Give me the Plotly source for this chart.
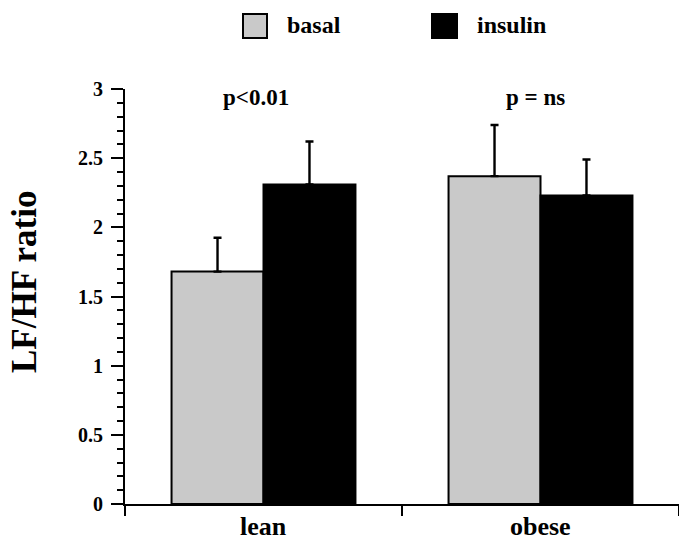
import plotly.graph_objects as go

categories = ["lean", "obese"]
basal = [1.68, 2.37]
basal_err = [0.245, 0.37]
insulin = [2.31, 2.23]
insulin_err = [0.31, 0.26]
p_labels = ["p<0.01", "p = ns"]
series_names = ["basal", "insulin"]
series_colors = ["#c9c9c9", "black"]
y_ticks = [0, 0.5, 1, 1.5, 2, 2.5, 3]
y_ticklabels = ["0", "0.5", "1", "1.5", "2", "2.5", "3"]

FONT = "Liberation Serif"
W, H = 679, 545
ML, MR, MT, MB = 125, 0, 89, 41
PW, PH = W - ML - MR, H - MT - MB

def px_x(p):
    return (p - ML) / PW

def px_y(p):
    return 1 - (p - MT) / PH

fig = go.Figure()
for name, vals, errs, col in zip(series_names, [basal, insulin], [basal_err, insulin_err], series_colors):
    fig.add_trace(go.Bar(
        x=categories, y=vals, name=name, showlegend=False,
        marker=dict(color=col, line=dict(color="black", width=2)),
        error_y=dict(type="data", array=errs, arrayminus=[0] * len(errs), symmetric=False,
                     color="black", thickness=2.4, width=4),
    ))

# p-value labels above each group
for cat, lab, dx in zip(categories, p_labels, [-8, -5]):
    fig.add_annotation(x=cat, y=2.935, xref="x", yref="y", text="<b>%s</b>" % lab,
                       showarrow=False, xshift=dx, yanchor="middle",
                       font=dict(family=FONT, size=23, color="black"))

# category labels
for cat in categories:
    fig.add_annotation(x=cat, y=px_y(H), xref="x", yref="paper", text="<b>%s</b>" % cat,
                       showarrow=False, yanchor="bottom", yshift=2,
                       font=dict(family=FONT, size=26, color="black"))

# legend (swatches + labels)
legend_boxes = [(243, 267), (432, 457)]
legend_text_x = [285, 475]
for (x0, x1), tx, name, col in zip(legend_boxes, legend_text_x, series_names, series_colors):
    fig.add_shape(type="rect", xref="paper", yref="paper",
                  x0=px_x(x0), x1=px_x(x1), y0=px_y(38), y1=px_y(14),
                  fillcolor=col, line=dict(color="black", width=2))
    fig.add_annotation(x=px_x(tx), y=px_y(25), xref="paper", yref="paper",
                       text="<b>%s</b>" % name, showarrow=False, xanchor="left", yanchor="middle",
                       font=dict(family=FONT, size=24, color="black"))

# y-axis title
fig.add_annotation(x=0, y=px_y(282), xref="paper", yref="paper", xshift=-(ML - 24),
                   text="<b>LF/HF ratio</b>", textangle=-90, showarrow=False,
                   xanchor="center", yanchor="middle",
                   font=dict(family=FONT, size=35, color="black"))

fig.update_layout(
    width=W, height=H,
    margin=dict(l=ML, r=MR, t=MT, b=MB, autoexpand=False),
    paper_bgcolor="white", plot_bgcolor="white",
    barmode="group", bargap=0.336, bargroupgap=0,
    font=dict(family=FONT, color="black"),
    showlegend=False,
    xaxis=dict(
        type="category", range=[-0.5, 1.5], tickson="boundaries",
        ticks="outside", ticklen=10, tickwidth=2, tickcolor="black",
        showline=True, linecolor="black", linewidth=2,
        showticklabels=False,
        showgrid=False, zeroline=False,
    ),
    yaxis=dict(
        range=[0, 3], tickvals=y_ticks, ticktext=["<b>%s</b>" % t for t in y_ticklabels],
        ticks="outside", ticklen=12, tickwidth=2, tickcolor="black",
        minor=dict(dtick=0.1, ticks="outside", ticklen=6, tickwidth=1.5, tickcolor="black"),
        showline=True, linecolor="black", linewidth=2,
        tickfont=dict(family=FONT, size=20, color="black"),
        ticklabelstandoff=4,
        showgrid=False, zeroline=False,
    ),
)

fig.write_html("out.html", config={"displayModeBar": False},
               post_script="document.body.style.margin='0px';")
